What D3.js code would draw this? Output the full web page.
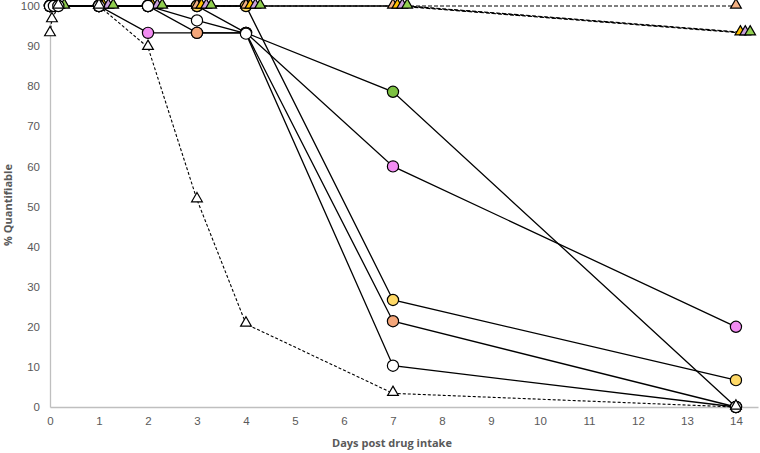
<!DOCTYPE html>
<html>
<head>
<meta charset="utf-8">
<script src="https://cdn.jsdelivr.net/npm/d3@7"></script>
<style>
  body { margin: 0; background: #fff; }
  svg { font-family: "Open Sans", "Liberation Sans", sans-serif; }
</style>
</head>
<body>
<svg id="chart" width="760" height="453"></svg>
<script>
// sampling days
const days = [0, 1, 2, 3, 4, 7, 14];
const whiteDays = [0, 0.08, 0.17, 1, 2, 3, 4, 7, 14];
const yTicks = [0, 10, 20, 30, 40, 50, 60, 70, 80, 90, 100];
const xTicks = d3.range(0, 15);

// solid series (circles)
const greenCircle = [100, 100, 100, 100, 93.3, 78.6, 0];
const pinkCircle = [100, 100, 93.3, 93.3, 93.3, 60, 20];
const orangeCircle = [100, 100, 100, 93.3, 93.3, 21.4, 0];
const yellowCircle = [100, 100, 100, 100, 100, 26.7, 6.7];
const whiteCircle = [100, 100, 100, 100, 100, 96.4, 93.1, 10.3, 0];

// dashed series (triangles)
const orangeTri = [100, 100, 100, 100, 100, 100, 100];
const yellowTri = [100, 100, 100, 100, 100, 100, 93.3];
const purpleTri = [100, 100, 100, 100, 100, 100, 93.3];
const greenTri = [100, 100, 100, 100, 100, 100, 93.3];
const openTriDays = [0, 0.04, 0.17, 1, 2, 3, 4, 7, 14];
const openTri = [93.1, 96.6, 100, 100, 89.7, 51.7, 20.7, 3.4, 0];

const svg = d3.select("#chart");
const margin = {top: 6, right: 2, bottom: 46, left: 50};
const width = 760 - margin.left - margin.right;
const height = 453 - margin.top - margin.bottom;

const x = d3.scaleLinear().domain([0, 14.45]).range([0, width]);
const y = d3.scaleLinear().domain([0, 100]).range([height, 0]);

const g = svg.append("g").attr("transform", "translate(" + margin.left + "," + margin.top + ")");

// axes
const xAxis = g.append("g")
  .attr("transform", "translate(0," + height + ")")
  .call(d3.axisBottom(x).tickValues(xTicks).tickSize(0).tickPadding(10));
const yAxis = g.append("g")
  .call(d3.axisLeft(y).tickValues(yTicks).tickSize(0).tickPadding(10));
[xAxis, yAxis].forEach(a => {
  a.select(".domain").attr("stroke", "#bfbfbf").attr("stroke-width", 1.3);
  a.selectAll("text").attr("fill", "#595959").style("font-size", "11.5px");
});

const line = d3.line().x(d => x(d[0])).y(d => y(d[1]));
const pts = (vals, off, ds) => (ds || days).map((d, i) => [d + off, vals[i]]);

// dashed series
const triSeries = [
  {vals: orangeTri, off: 0, fill: "#f4b183"},
  {vals: yellowTri, off: 0.09, fill: "#ffc000"},
  {vals: purpleTri, off: 0.19, fill: "#c9a0dc"},
  {vals: greenTri, off: 0.29, fill: "#92d050"}
];
triSeries.forEach(s => {
  g.append("path").datum(pts(s.vals, s.off))
    .attr("d", line).attr("fill", "none")
    .attr("stroke", "#000").attr("stroke-width", 1.1).attr("stroke-dasharray", "4,2");
});
g.append("path").datum(pts(openTri, 0, openTriDays))
  .attr("d", line).attr("fill", "none")
  .attr("stroke", "#000").attr("stroke-width", 1.1).attr("stroke-dasharray", "3,2");

// solid series
const circSeries = [
  {vals: greenCircle, fill: "#7cc142"},
  {vals: pinkCircle, fill: "#f28cf2"},
  {vals: orangeCircle, fill: "#f4a67a"},
  {vals: yellowCircle, fill: "#ffd966"}
];
const whiteSeries = {vals: whiteCircle, fill: "#ffffff", ds: whiteDays};
[...circSeries, whiteSeries].forEach(s => {
  g.append("path").datum(pts(s.vals, 0, s.ds))
    .attr("d", line).attr("fill", "none")
    .attr("stroke", "#000").attr("stroke-width", 1.3);
});

const tri = d3.symbol().type(d3.symbolTriangle).size(50);
function drawTris(data, fill) {
  g.selectAll(null).data(data).enter().append("path")
    .attr("d", tri)
    .attr("transform", d => "translate(" + x(d[0]) + "," + (y(d[1]) - 1) + ")")
    .attr("fill", fill).attr("stroke", "#000").attr("stroke-width", 1.2);
}
function drawCircles(s) {
  g.selectAll(null).data(pts(s.vals, 0, s.ds)).enter().append("circle")
    .attr("cx", d => x(d[0])).attr("cy", d => y(d[1])).attr("r", 5.6)
    .attr("fill", s.fill).attr("stroke", "#000").attr("stroke-width", 1.2);
}

circSeries.forEach(drawCircles);
triSeries.forEach(s => drawTris(pts(s.vals, s.off), s.fill));
drawCircles(whiteSeries);
drawTris(pts(openTri, 0, openTriDays), "#ffffff");

// axis titles
g.append("text")
  .attr("x", 342).attr("y", height + 40)
  .attr("text-anchor", "middle")
  .attr("fill", "#595959").style("font-size", "11px").style("font-weight", "bold")
  .text("Days post drug intake");
g.append("text")
  .attr("transform", "rotate(-90)")
  .attr("x", -199).attr("y", -38)
  .attr("text-anchor", "middle")
  .attr("fill", "#595959").style("font-size", "11px").style("font-weight", "bold")
  .text("% Quantifiable");
</script>
</body>
</html>
